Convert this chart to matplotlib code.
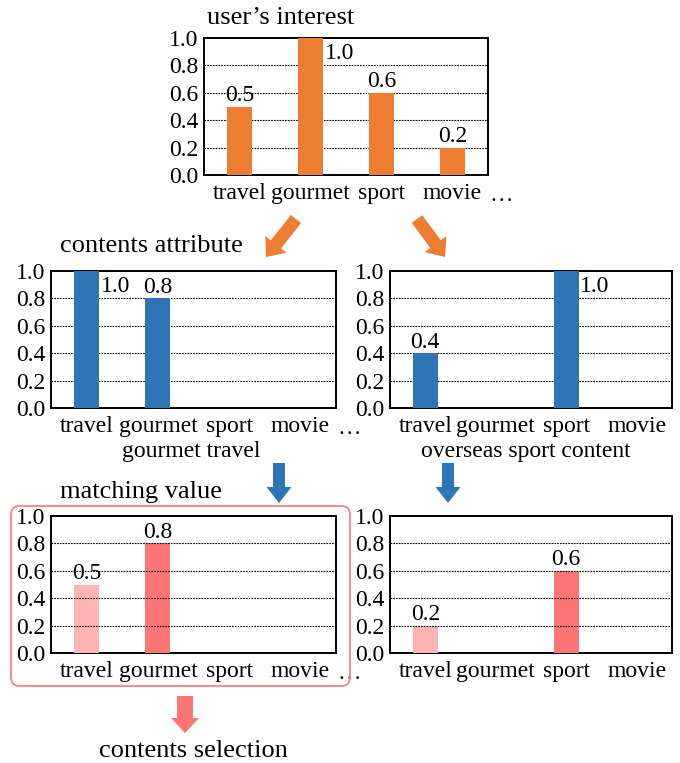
import matplotlib
matplotlib.use("Agg")
import matplotlib.pyplot as plt
from matplotlib.patches import FancyArrow, FancyBboxPatch

# ---- data ----
categories = ["travel", "gourmet", "sport", "movie"]
interest = [0.5, 1.0, 0.6, 0.2]
attr_gourmet_travel = [1.0, 0.8, 0.0, 0.0]
attr_overseas_sport = [0.4, 0.0, 1.0, 0.0]
match_gourmet_travel = [0.5, 0.8, 0.0, 0.0]
match_overseas_sport = [0.2, 0.0, 0.6, 0.0]
yticks = [0.0, 0.2, 0.4, 0.6, 0.8, 1.0]

ORANGE = "#ED7D31"
BLUE = "#2E75B6"
RED = "#FF7575"
PINK = "#FFB3B3"
BOX_RED = "#FF8080"

W, H = 680, 763
plt.rcParams["font.family"] = ["Liberation Serif", "DejaVu Serif"]
FS = 17
TFS = 19

fig = plt.figure(figsize=(W / 100, H / 100), dpi=100)


def fx(x):
    return x / W


def fy(y):
    return 1 - y / H


def add_panel(left, top, right, bottom, values, colors, ellipsis=False, grid_top=False):
    ax = fig.add_axes([fx(left), fy(bottom), fx(right - left), (bottom - top) / H])
    x = list(range(len(categories)))
    ax.bar(x, values, width=0.35, color=colors, zorder=3)
    ax.set_xlim(-0.5, len(categories) - 0.5)
    ax.set_ylim(0, 1.0)
    ax.set_yticks(yticks)
    ax.set_yticklabels([f"{v:.1f}" for v in yticks], fontsize=FS)
    ax.set_xticks(x)
    ax.set_xticklabels(categories, fontsize=FS)
    ax.tick_params(axis="y", length=0, pad=4)
    ax.tick_params(axis="x", length=0, pad=6)
    for yv in yticks[1:-1]:
        ax.axhline(yv, color="black", lw=0.8, ls=(0, (1.5, 1.0)),
                   zorder=4 if grid_top else 1)
    for s in ax.spines.values():
        s.set_linewidth(1.4)
    for xi, v in zip(x, values):
        if v <= 0:
            continue
        if v >= 0.95:
            ax.text(xi + 0.2, v - 0.04, f"{v:.1f}", ha="left", va="top", fontsize=FS)
        else:
            ax.text(xi, v + 0.005, f"{v:.1f}", ha="center", va="bottom", fontsize=FS)
    if ellipsis:
        ax.text(1.005, -0.07, "…", transform=ax.transAxes, ha="left", va="top", fontsize=FS)
    return ax


# user's interest
fig.text(fx(207), fy(18), "user’s interest", fontsize=TFS, ha="left", va="center")
add_panel(204, 38, 488, 175, interest, ORANGE, ellipsis=True)

# contents attribute
fig.text(fx(60), fy(246), "contents attribute", fontsize=TFS, ha="left", va="center")
add_panel(51, 271, 336, 408, attr_gourmet_travel, BLUE, ellipsis=True)
add_panel(390, 271, 672, 408, attr_overseas_sport, BLUE)
fig.text(fx(191), fy(451), "gourmet travel", fontsize=FS, ha="center", va="center")
fig.text(fx(526), fy(451), "overseas sport content", fontsize=FS, ha="center", va="center")

# matching value
fig.text(fx(60), fy(492), "matching value", fontsize=TFS, ha="left", va="center")
add_panel(51, 516, 336, 653, match_gourmet_travel, [PINK, RED, RED, RED],
          ellipsis=True, grid_top=True)
add_panel(390, 516, 672, 653, match_overseas_sport, [PINK, RED, RED, RED], grid_top=True)

# selection frame around the left matching panel
frame = FancyBboxPatch((fx(11), fy(686)), fx(350 - 11), (686 - 506) / H,
                       boxstyle="round,pad=0,rounding_size=0.012",
                       transform=fig.transFigure, fill=False,
                       edgecolor=BOX_RED, lw=1.3)
fig.patches.append(frame)

fig.text(fx(193), fy(751), "contents selection", fontsize=TFS, ha="center", va="center")


def arrow(x0, y0, x1, y1, color, shaft=13, head_w=27, head_l=16):
    # lengths in pixels, drawn in pixel space
    a = FancyArrow(x0, H - y0, x1 - x0, -(y1 - y0), width=shaft,
                   head_width=head_w, head_length=head_l,
                   length_includes_head=True, color=color, lw=0,
                   transform=None)
    a.set_transform(matplotlib.transforms.Affine2D().scale(fig.dpi / 100))
    fig.patches.append(a)


arrow(296, 219, 266, 257, ORANGE)
arrow(417, 219, 445, 257, ORANGE)
arrow(279, 463, 279, 503, BLUE, shaft=12, head_w=25, head_l=16)
arrow(448, 463, 448, 503, BLUE, shaft=12, head_w=25, head_l=16)
arrow(185, 696, 185, 733, RED, shaft=16, head_w=28, head_l=15)

fig.savefig("out.png", dpi=100)
